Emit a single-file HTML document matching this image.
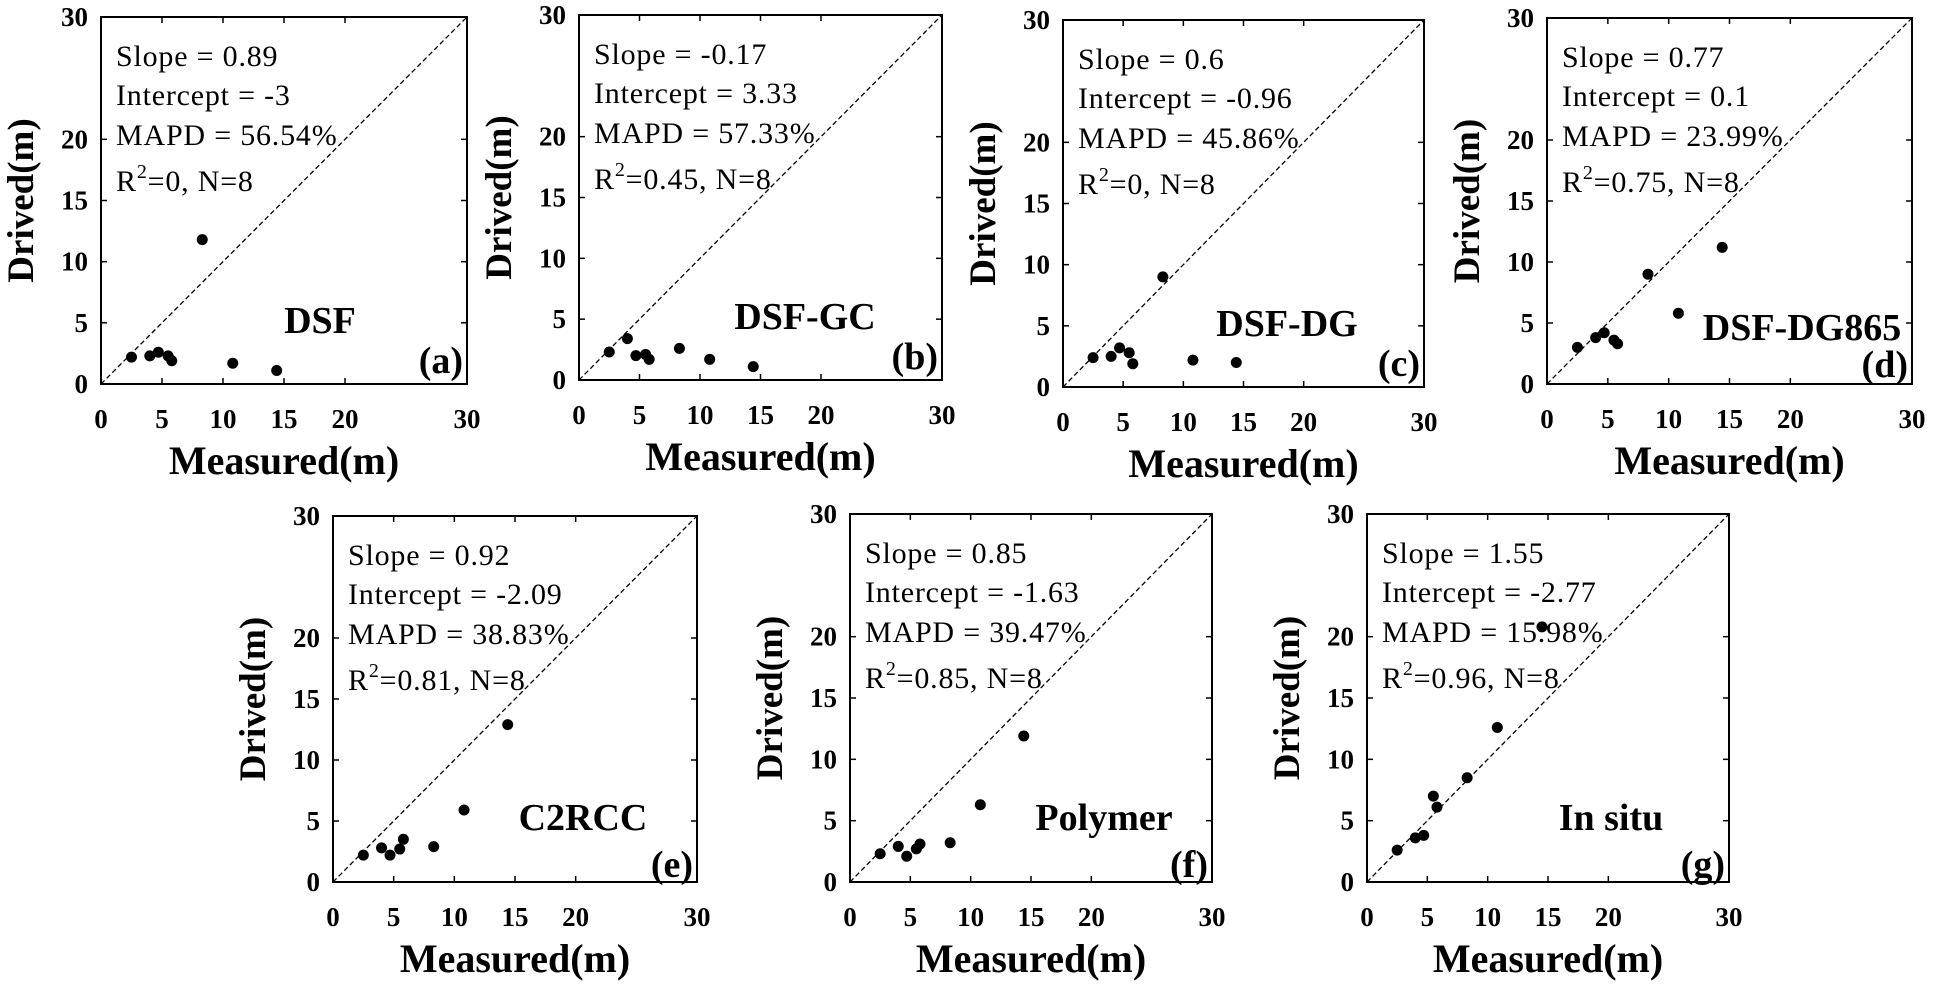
<!DOCTYPE html>
<html><head><meta charset="utf-8"><style>
html,body{margin:0;padding:0;background:#fff;}
svg{display:block;font-family:"Liberation Serif",serif;}
</style></head><body>
<svg id="fig" width="1949" height="985" viewBox="0 0 1949 985" xmlns="http://www.w3.org/2000/svg"></svg>
<script>
const measured = [2.5, 4.0, 4.7, 5.5, 5.8, 8.3, 10.8, 14.4];
const derivedA = [2.2, 2.3, 2.6, 2.3, 1.9, 11.8, 1.7, 1.1];
const derivedB = [2.3, 3.4, 2.0, 2.1, 1.7, 2.6, 1.7, 1.1];
const derivedC = [2.4, 2.5, 3.2, 2.8, 1.9, 9.0, 2.2, 2.0];
const derivedD = [3.0, 3.8, 4.2, 3.6, 3.3, 9.0, 5.8, 11.2];
const derivedE = [2.2, 2.8, 2.2, 2.7, 3.5, 2.9, 5.9, 12.9];
const derivedF = [2.3, 2.9, 2.1, 2.7, 3.1, 3.2, 6.3, 11.9];
const measuredG = [2.5, 4.0, 4.7, 5.5, 5.8, 8.3, 10.8, 14.5];
const derivedG = [2.6, 3.6, 3.8, 7.0, 6.1, 8.5, 12.6, 20.8];
const tickValues = [0, 5, 10, 15, 20, 30];
const yTickValues = [0, 5, 10, 15, 20, 30];
const methodNames = ["DSF","DSF-GC","DSF-DG","DSF-DG865","C2RCC","Polymer","In  situ"];
const panelLetters = ["(a)","(b)","(c)","(d)","(e)","(f)","(g)"];
const slopes = ["0.89","-0.17","0.6","0.77","0.92","0.85","1.55"];
const intercepts = ["-3","3.33","-0.96","0.1","-2.09","-1.63","-2.77"];
const mapds = ["56.54%","57.33%","45.86%","23.99%","38.83%","39.47%","15.98%"];
const r2s = ["0","0.45","0","0.75","0.81","0.85","0.96"];

const panels = [
 {x0:101,y0:17,x1:467,y1:384,lx:219,xs:measured,ys:derivedA,lab:-51,let:-11},
 {x0:579,y0:15,x1:942,y1:380,lx:226,xs:measured,ys:derivedB,lab:-51,let:-11},
 {x0:1063,y0:20,x1:1424,y1:387,lx:224,xs:measured,ys:derivedC,lab:-51,let:-11},
 {x0:1547,y0:18,x1:1912,y1:384,lx:255,xs:measured,ys:derivedD,lab:-44,let:-7},
 {x0:333,y0:516,x1:697,y1:882,lx:250,xs:measured,ys:derivedE,lab:-52,let:-5},
 {x0:850,y0:514,x1:1212,y1:882,lx:254,xs:measured,ys:derivedF,lab:-52,let:-5},
 {x0:1367,y0:514,x1:1729,y1:882,lx:244,xs:measuredG,ys:derivedG,lab:-52,let:-5}
];
const NS="http://www.w3.org/2000/svg";
const svg=document.getElementById('fig');
function mk(tag,attrs,parent,text){const e=document.createElementNS(NS,tag);for(const k in attrs)e.setAttribute(k,attrs[k]);if(text!==undefined)e.textContent=text;parent.appendChild(e);return e;}
function txt(parent,x,y,s,attrs){
 return mk('text',Object.assign({x:x,y:y},attrs),parent,s);
}
panels.forEach((p,i)=>{
 const g=mk('g',{},svg);
 
 
 const X=v=>p.x0+(p.x1-p.x0)*v/30;
 const Y=v=>p.y1-(p.y1-p.y0)*v/30;
 const box=mk('rect',{x:p.x0,y:p.y0,width:p.x1-p.x0,height:p.y1-p.y0,fill:'none',stroke:'#000','stroke-width':2},g);
 
 
 const line=mk('line',{x1:X(0),y1:Y(0),x2:X(30),y2:Y(30),stroke:'#000','stroke-width':1.3,'stroke-dasharray':'5,3'},g);
 
 
 tickValues.forEach(v=>{
  mk('line',{x1:X(v),y1:p.y1,x2:X(v),y2:p.y1-6,stroke:'#000','stroke-width':1.5},g);
  mk('line',{x1:X(v),y1:p.y0,x2:X(v),y2:p.y0+6,stroke:'#000','stroke-width':1.5},g);
  const t=txt(g,X(v),p.y1+44,String(v),{'text-anchor':'middle','font-size':27,'font-weight':'bold'});
  
  
 });
 yTickValues.forEach(v=>{
  mk('line',{x1:p.x0,y1:Y(v),x2:p.x0+6,y2:Y(v),stroke:'#000','stroke-width':1.5},g);
  mk('line',{x1:p.x1,y1:Y(v),x2:p.x1-6,y2:Y(v),stroke:'#000','stroke-width':1.5},g);
  const t=txt(g,p.x0-13,Y(v)+9,String(v),{'text-anchor':'end','font-size':27,'font-weight':'bold'});
  
  
 });
 p.xs.forEach((xv,j)=>{
  const c=mk('circle',{cx:X(xv),cy:Y(p.ys[j]),r:5.5,fill:'#000'},g);
  
  
 });
 const tx=p.x0+15, ty=p.y0;
 const st={'font-size':30,'letter-spacing':0.8};
 const l1=txt(g,tx,ty+49,'Slope = '+slopes[i],st);
 
 
 const l2=txt(g,tx,ty+88,'Intercept = '+intercepts[i],st);
 
 
 const l3=txt(g,tx,ty+128,'MAPD = '+mapds[i],st);
 
 
 const l4=txt(g,tx,ty+174,'',st);
 
 
 mk('tspan',{},l4,'R');
 mk('tspan',{dy:-13,'font-size':20},l4,'2');
 mk('tspan',{dy:13},l4,'='+r2s[i]+', N=8');
 const nm=txt(g,p.x0+p.lx,p.y1+p.lab,methodNames[i],{'text-anchor':'middle','font-size':38,'font-weight':'bold'});
 
 
 const lt=txt(g,p.x1-4,p.y1+p.let,panelLetters[i],{'text-anchor':'end','font-size':38,'font-weight':'bold'});
 
 
 const xt=txt(g,(p.x0+p.x1)/2,p.y1+90,'Measured(m)',{'text-anchor':'middle','font-size':40,'font-weight':'bold'});
 
 
 const yg=mk('g',{transform:`translate(${p.x0-68},${(p.y0+p.y1)/2}) rotate(-90)`},g);
 const yt=mk('text',{x:0,y:0,'text-anchor':'middle','font-size':37,'font-weight':'bold'},yg,'Drived(m)');
 
 
});
</script>
</body></html>
